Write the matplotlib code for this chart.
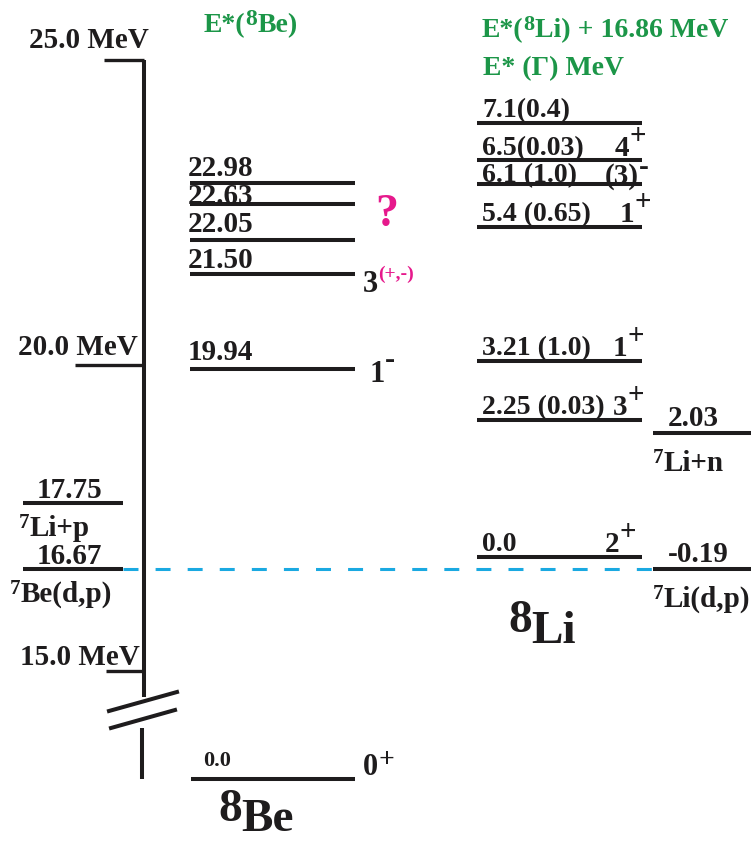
import matplotlib
matplotlib.use("Agg")
import matplotlib.pyplot as plt

# 8Be levels, excitation energy in MeV
be_energies = [22.98, 22.63, 22.05, 21.50, 19.94]
be_ground = 0.0

# 8Li levels: E* and width (MeV), plotted at E* + 16.86 MeV
li_offset = 16.86
li_energies = [7.1, 6.5, 6.1, 5.4, 3.21, 2.25, 0.0]
li_labels = ["7.1(0.4)", "6.5(0.03)", "6.1 (1.0)", "5.4 (0.65)",
             "3.21 (1.0)", "2.25 (0.03)", "0.0"]
li_spins = ["", "4", "(3)", "1", "1", "3", "2"]
li_parities = ["", "+", "-", "+", "+", "+", "+"]

# particle thresholds
be_thresholds = [17.75, 16.67]
be_channels = ["Li+p", "Be(d,p)"]
li_thresholds = [2.03, -0.19]
li_channels = ["Li+n", "Li(d,p)"]

scale_ticks = [25.0, 20.0, 15.0]

INK = "#1e1c1d"
GREEN = "#1c9648"
MAGENTA = "#e6198c"
CYAN = "#1aa9e1"
SERIF = "Liberation Serif"

PX = 61.15                 # pixels per MeV
Y_TOP = 25.0 + 60.5 / PX
Y_BOT = Y_TOP - 845 / PX
GS_RAISE = 13.23           # ground state sits below the axis break


def ypos(e):
    return e + GS_RAISE if e < 10 else e


def up(px):
    return px / PX


def at_px(p):
    return Y_TOP - p / PX


fig = plt.figure(figsize=(7.51, 8.45), dpi=100)
ax = fig.add_axes([0, 0, 1, 1])
ax.set_xlim(0, 751)
ax.set_ylim(Y_BOT, Y_TOP)
ax.axis("off")


def rich(x, y, parts):
    # parts: (text, size, color, rise in px); each piece follows the previous one
    prev = None
    for text, size, color, rise in parts:
        style = dict(fontsize=size, color=color, family=SERIF, weight="bold",
                     va="baseline", ha="left")
        if prev is None:
            prev = ax.text(x, y + up(rise), text, **style)
        else:
            prev = ax.annotate(text, xy=(1, y + up(rise)),
                               xycoords=(prev, "data"), **style)
    return prev


def level(x0, x1, e, lw=2.9):
    ax.plot([x0, x1], [ypos(e), ypos(e)], color=INK, lw=lw,
            solid_capstyle="butt", zorder=3)


# energy scale with break
AXIS_X = 144
tick_x0 = [104, 75, 106]
tick_lab_x = [29, 18, 20]
tick_lab_dy = [12, 11, 7]
ax.plot([AXIS_X, AXIS_X], [scale_ticks[0], at_px(698)], color=INK, lw=2.9,
        solid_capstyle="butt", zorder=3)
for t, x0, lx, dy in zip(scale_ticks, tick_x0, tick_lab_x, tick_lab_dy):
    ax.plot([x0, AXIS_X], [t, t], color=INK, lw=2.4, solid_capstyle="butt")
    rich(lx, t + up(dy), [(f"{t:.1f} MeV", 21, INK, 0)])
ax.plot([109, 177], [at_px(712), at_px(693)], color=INK, lw=2.9)
ax.plot([111, 175], [at_px(729), at_px(711)], color=INK, lw=2.9)
ax.plot([142, 142], [at_px(729), ypos(be_ground)], color=INK, lw=2.9,
        solid_capstyle="butt")

# 8Be column
BE_X = (190, 355)
be_label_dy = [8, 1, 9, 7, 10]
for e, dy in zip(be_energies, be_label_dy):
    level(*BE_X, e)
    rich(188, ypos(e) + up(dy), [(f"{e:.2f}", 21, INK, 0)])
rich(375, ypos(be_energies[1]) - up(21), [("?", 33, MAGENTA, 0)])
rich(363, ypos(be_energies[3]) - up(17),
     [("3", 22, INK, 0), ("(+,-)", 14, MAGENTA, 13)])
rich(370, ypos(be_energies[4]) - up(12), [("1", 22, INK, 0), ("-", 22, INK, 14)])

level(191, 355, be_ground)
rich(203, ypos(be_ground) + up(14), [(f"{be_ground:.1f}", 16, INK, 0)])
rich(363, ypos(be_ground) + up(5), [("0", 22, INK, 0), ("+", 20, INK, 8)])
rich(218, ypos(be_ground) - up(51), [("8", 34, INK, 10), ("Be", 34, INK, 0)])

# thresholds next to the scale
chan_x = [19, 10]
for e, ch, cx in zip(be_thresholds, be_channels, chan_x):
    level(23, 123, e)
    rich(37, ypos(e) + up(6), [(f"{e:.2f}", 21, INK, 0)])
    rich(cx, ypos(e) - up(32), [("7", 15, INK, 8), (ch, 21, INK, 0)])

# 7Be(d,p) / 7Li(d,p) alignment
ax.plot([123, 653], [be_thresholds[1], be_thresholds[1]], color=CYAN, lw=2.2,
        dashes=(4.9, 5.6), zorder=1)

# 8Li column
LI_X = (477, 642)
spin_x = [None, 615, 605, 620, 613, 613, 605]
li_label_dy = [7, 6, 3, 7, 7, 7, 7]
for e, lab, sp, par, sx, dy in zip(li_energies, li_labels, li_spins,
                                   li_parities, spin_x, li_label_dy):
    y = e + li_offset
    level(*LI_X, y)
    rich(482, y + up(dy), [(lab, 20, INK, 0)])
    if sp:
        rise = 8 if par == "-" else 12
        rich(sx, y + up(dy - 1), [(sp, 21, INK, 0), (par, 21, INK, rise)])
rich(508, li_offset - up(85), [("8", 34, INK, 11), ("Li", 34, INK, 0)])

for e, ch in zip(li_thresholds, li_channels):
    y = e + li_offset
    level(653, 760, y)
    rich(668, y + up(8), [(f"{e:.2f}", 21, INK, 0)])
    rich(653, y - up(37), [("7", 15, INK, 8), (ch, 21, INK, 0)])

# column headings
rich(204, at_px(32), [("E*(", 20, GREEN, 0), ("8", 17, GREEN, 7), ("Be)", 20, GREEN, 0)])
rich(482, at_px(37), [("E*(", 20, GREEN, 0), ("8", 16, GREEN, 7),
                      ("Li) + 16.86 MeV", 20, GREEN, 0)])
rich(483, at_px(75), [("E* (\u0393) MeV", 20, GREEN, 0)])

fig.savefig("out.png", dpi=100)
